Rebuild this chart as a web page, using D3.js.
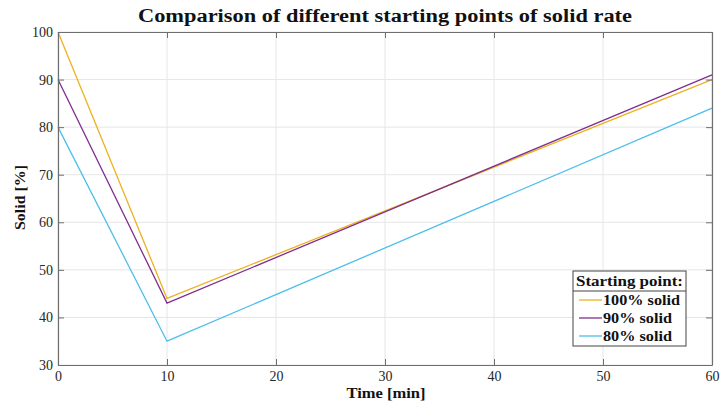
<!DOCTYPE html>
<html>
<head>
<meta charset="utf-8">
<script src="https://cdn.jsdelivr.net/npm/d3@7/dist/d3.min.js"></script>
<style>
  html, body { margin: 0; padding: 0; background: #fff; }
  svg { display: block; font-family: "Liberation Serif", "DejaVu Serif", serif; }
</style>
</head>
<body>
<svg id="chart" width="721" height="410"></svg>
<script>
// Time points [min]
const time = [0, 10, 60];
// Solid rate [%] for each starting point
const solid100 = [100, 44, 90];
const solid90 = [90, 43, 91];
const solid80 = [80, 35, 84];
const seriesNames = ["100% solid", "90% solid", "80% solid"];
const seriesColors = ["#EDB120", "#7E2F8E", "#4DBEEE"];
const xTicks = [0, 10, 20, 30, 40, 50, 60];
const yTicks = [30, 40, 50, 60, 70, 80, 90, 100];

const series = [solid100, solid90, solid80];

const svg = d3.select("#chart");
const m = { left: 58, right: 712, top: 32, bottom: 365 };

const x = d3.scaleLinear().domain([0, 60]).range([m.left, m.right]);
const y = d3.scaleLinear().domain([30, 100]).range([m.bottom, m.top]);

const serifFont = "'Liberation Serif', 'DejaVu Serif', serif";

// stretch a bold label to its set width (wide serif look)
function spread(sel, width) {
  return sel.attr("textLength", width).attr("lengthAdjust", "spacingAndGlyphs");
}

// grid
const grid = svg.append("g").attr("stroke", "#e6e6e6").attr("stroke-width", 1);
xTicks.forEach(t => grid.append("line")
  .attr("x1", x(t)).attr("x2", x(t)).attr("y1", m.top).attr("y2", m.bottom));
yTicks.forEach(t => grid.append("line")
  .attr("x1", m.left).attr("x2", m.right).attr("y1", y(t)).attr("y2", y(t)));

// lines
const line = d3.line().x((d, i) => x(time[i])).y(d => y(d));
series.forEach((s, k) => {
  svg.append("path")
    .datum(s)
    .attr("d", line)
    .attr("fill", "none")
    .attr("stroke", seriesColors[k])
    .attr("stroke-width", 1.3);
});

// axes with inward ticks, MATLAB box style
const tickLen = 6;
const axisColor = "#262626";
const boxColor = "#6e6e6e";

const xAxis = d3.axisBottom(x).tickValues(xTicks).tickSizeInner(-tickLen).tickSizeOuter(0).tickPadding(6);
const yAxis = d3.axisLeft(y).tickValues(yTicks).tickSizeInner(-tickLen).tickSizeOuter(0).tickPadding(5);
const xAxisTop = d3.axisTop(x).tickValues(xTicks).tickSizeInner(-tickLen).tickSizeOuter(0).tickFormat("");
const yAxisRight = d3.axisRight(y).tickValues(yTicks).tickSizeInner(-tickLen).tickSizeOuter(0).tickFormat("");

function styleAxis(g) {
  g.selectAll("path").attr("stroke", boxColor).attr("stroke-width", 1.2);
  g.selectAll("line").attr("stroke", boxColor).attr("stroke-width", 1);
  g.selectAll("text").attr("fill", axisColor)
    .style("font-family", serifFont)
    .style("font-size", "14px");
}

svg.append("g").attr("transform", `translate(0,${m.bottom})`).call(xAxis).call(styleAxis);
svg.append("g").attr("transform", `translate(${m.left},0)`).call(yAxis).call(styleAxis);
svg.append("g").attr("transform", `translate(0,${m.top})`).call(xAxisTop).call(styleAxis);
svg.append("g").attr("transform", `translate(${m.right},0)`).call(yAxisRight).call(styleAxis);

// title and axis labels
svg.append("text")
  .attr("x", 385).attr("y", 22)
  .attr("text-anchor", "middle")
  .attr("font-weight", "bold").attr("font-size", "18px").attr("fill", "#111")
  .text("Comparison of different starting points of solid rate")
  .call(spread, 494);

svg.append("text")
  .attr("x", 386).attr("y", 398)
  .attr("text-anchor", "middle")
  .attr("font-weight", "bold").attr("font-size", "15px").attr("fill", "#111")
  .text("Time [min]")
  .call(spread, 79);

svg.append("text")
  .attr("transform", `translate(25,${(m.top + m.bottom) / 2 - 1}) rotate(-90)`)
  .attr("text-anchor", "middle")
  .attr("font-weight", "bold").attr("font-size", "15px").attr("fill", "#111")
  .text("Solid [%]")
  .call(spread, 65);

// legend
const lg = { x: 573, y: 271, w: 113, h: 75 };
const legend = svg.append("g");
legend.append("rect")
  .attr("x", lg.x).attr("y", lg.y).attr("width", lg.w).attr("height", lg.h)
  .attr("fill", "#fff").attr("stroke", "#444").attr("stroke-width", 1);
legend.append("line")
  .attr("x1", lg.x).attr("x2", lg.x + lg.w).attr("y1", lg.y + 20).attr("y2", lg.y + 20)
  .attr("stroke", "#444").attr("stroke-width", 1);
legend.append("text")
  .attr("x", lg.x + lg.w / 2).attr("y", lg.y + 15)
  .attr("text-anchor", "middle")
  .attr("font-weight", "bold").attr("font-size", "14px").attr("fill", "#111")
  .text("Starting point:")
  .call(spread, 107);
const legendWidths = [77, 69, 69];
seriesNames.forEach((name, i) => {
  const cy = lg.y + 29 + i * 18;
  legend.append("line")
    .attr("x1", lg.x + 6).attr("x2", lg.x + 29).attr("y1", cy).attr("y2", cy)
    .attr("stroke", seriesColors[i]).attr("stroke-width", 1.3);
  legend.append("text")
    .attr("x", lg.x + 30).attr("y", cy + 5)
    .attr("font-weight", "bold").attr("font-size", "14px").attr("fill", "#111")
    .text(name)
    .call(spread, legendWidths[i]);
});
</script>
</body>
</html>
